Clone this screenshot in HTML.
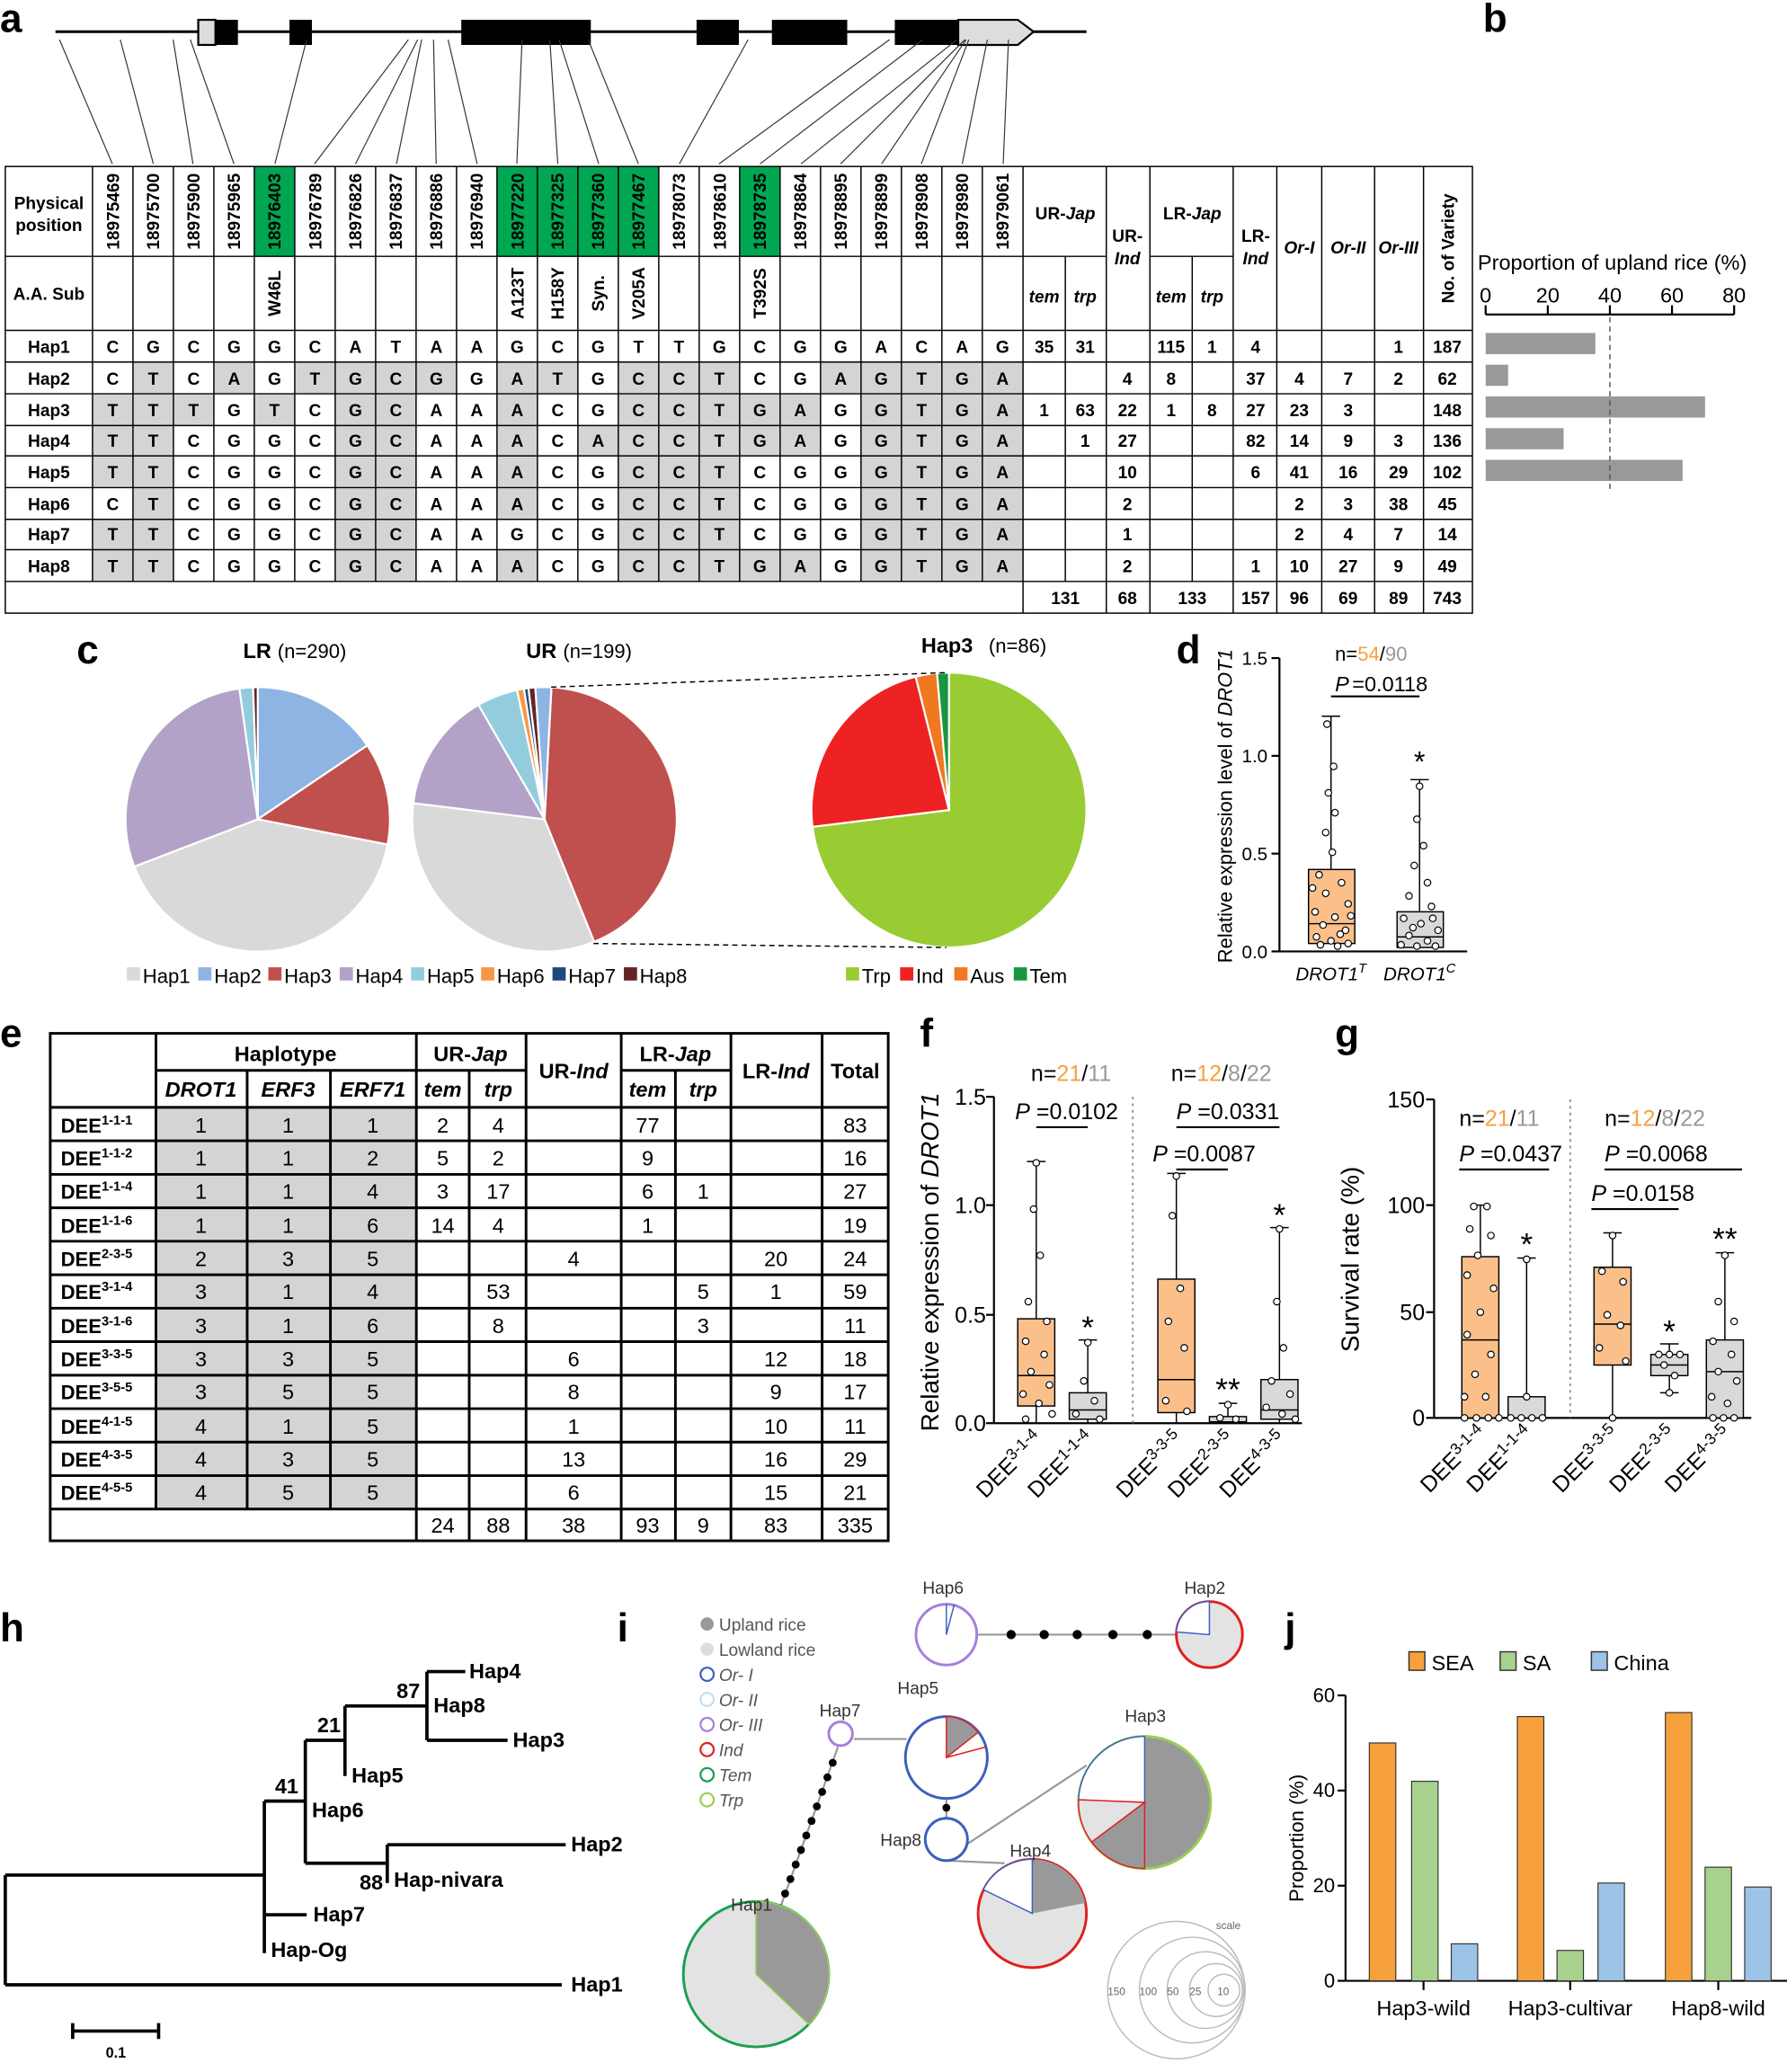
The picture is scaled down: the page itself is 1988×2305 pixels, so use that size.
<!DOCTYPE html>
<html><head><meta charset="utf-8"><style>
html,body{margin:0;padding:0;background:#fff}
svg{display:block}
text{font-family:"Liberation Sans",Arial,sans-serif}
.b{font-weight:bold}
.t{font-size:13px;font-weight:bold;text-anchor:middle}
.L{font-size:30px;font-weight:bold}
</style></head><body>
<svg width="1988" height="2305" viewBox="0 0 1352 1568" preserveAspectRatio="none" xmlns="http://www.w3.org/2000/svg">
<rect width="1352" height="1568" fill="#fff"/>
<!-- panel letters -->
<text x="0" y="24" class="L">a</text>
<text x="1122" y="24" class="L">b</text>
<text x="58" y="502" class="L">c</text>
<text x="890" y="502" class="L">d</text>
<text x="0" y="792" class="L">e</text>
<text x="696" y="792" class="L">f</text>
<text x="1010" y="792" class="L">g</text>
<text x="0" y="1242" class="L">h</text>
<text x="467" y="1242" class="L">i</text>
<text x="972" y="1242" class="L">j</text>

<!-- gene model -->
<line x1="42" y1="24" x2="822" y2="24" stroke="#000" stroke-width="2"/>
<rect x="150" y="15" width="13" height="19" fill="#ddd" stroke="#000" stroke-width="1.5"/>
<rect x="163" y="15" width="17" height="19" fill="#000"/>
<rect x="219" y="15" width="17" height="19" fill="#000"/>
<rect x="349" y="15" width="98" height="19" fill="#000"/>
<rect x="527" y="15" width="32" height="19" fill="#000"/>
<rect x="584" y="15" width="57" height="19" fill="#000"/>
<rect x="677" y="15" width="48" height="19" fill="#000"/>
<path d="M725 15 H770 L782 24 L770 34 H725 Z" fill="#ddd" stroke="#000" stroke-width="1.5"/>
<g stroke="#333" stroke-width="0.8">
<line x1="45" y1="30" x2="85" y2="124"/><line x1="91" y1="30" x2="116" y2="124"/><line x1="131" y1="30" x2="146" y2="124"/><line x1="144" y1="30" x2="177" y2="124"/><line x1="232" y1="30" x2="208" y2="124"/><line x1="309" y1="30" x2="238" y2="124"/><line x1="316" y1="30" x2="269" y2="124"/><line x1="319" y1="30" x2="300" y2="124"/><line x1="328" y1="30" x2="330" y2="124"/><line x1="339" y1="30" x2="361" y2="124"/><line x1="395" y1="30" x2="391" y2="124"/><line x1="416" y1="30" x2="422" y2="124"/><line x1="423" y1="30" x2="453" y2="124"/><line x1="445" y1="30" x2="483" y2="124"/><line x1="566" y1="30" x2="514" y2="124"/><line x1="673" y1="30" x2="544" y2="124"/><line x1="698" y1="30" x2="575" y2="124"/><line x1="724" y1="30" x2="606" y2="124"/><line x1="730" y1="30" x2="636" y2="124"/><line x1="731" y1="30" x2="667" y2="124"/><line x1="733" y1="30" x2="697" y2="124"/><line x1="747" y1="30" x2="728" y2="124"/><line x1="763" y1="30" x2="759" y2="124"/>
</g>

<!-- table a: green cells -->
<g fill="#00a651">
<rect x="192.4" y="126" width="30.6" height="68"/>
<rect x="376" y="126" width="122.4" height="68"/>
<rect x="559.6" y="126" width="30.6" height="68"/>
</g>
<g fill="#d4d4d4">
<rect x="100.6" y="274" width="30.6" height="24"/><rect x="161.8" y="274" width="30.6" height="24"/><rect x="223" y="274" width="122.4" height="24"/><rect x="376" y="274" width="61.2" height="24"/><rect x="467.8" y="274" width="91.8" height="24"/><rect x="620.8" y="274" width="153" height="24"/>
<rect x="70" y="298" width="91.8" height="24"/><rect x="192.4" y="298" width="30.6" height="24"/><rect x="253.6" y="298" width="61.2" height="24"/><rect x="376" y="298" width="30.6" height="24"/><rect x="467.8" y="298" width="153" height="24"/><rect x="651.4" y="298" width="122.4" height="24"/>
<rect x="70" y="322" width="61.2" height="23"/><rect x="253.6" y="322" width="61.2" height="23"/><rect x="376" y="322" width="30.6" height="23"/><rect x="437.2" y="322" width="183.6" height="23"/><rect x="651.4" y="322" width="122.4" height="23"/>
<rect x="70" y="345" width="61.2" height="24"/><rect x="253.6" y="345" width="61.2" height="24"/><rect x="376" y="345" width="30.6" height="24"/><rect x="467.8" y="345" width="91.8" height="24"/><rect x="651.4" y="345" width="122.4" height="24"/>
<rect x="100.6" y="369" width="30.6" height="24"/><rect x="253.6" y="369" width="61.2" height="24"/><rect x="376" y="369" width="30.6" height="24"/><rect x="467.8" y="369" width="91.8" height="24"/><rect x="651.4" y="369" width="122.4" height="24"/>
<rect x="70" y="393" width="61.2" height="23"/><rect x="253.6" y="393" width="61.2" height="23"/><rect x="467.8" y="393" width="91.8" height="23"/><rect x="651.4" y="393" width="122.4" height="23"/>
<rect x="70" y="416" width="61.2" height="24"/><rect x="253.6" y="416" width="61.2" height="24"/><rect x="376" y="416" width="30.6" height="24"/><rect x="467.8" y="416" width="153" height="24"/><rect x="651.4" y="416" width="122.4" height="24"/>
</g>
<g stroke="#000" stroke-width="1" fill="none">
<rect x="4" y="126" width="1110" height="338"/>
<line x1="4" y1="194" x2="837" y2="194"/><line x1="870" y1="194" x2="933" y2="194"/>
<line x1="4" y1="250" x2="1114" y2="250"/><line x1="4" y1="274" x2="1114" y2="274"/><line x1="4" y1="298" x2="1114" y2="298"/><line x1="4" y1="322" x2="1114" y2="322"/><line x1="4" y1="345" x2="1114" y2="345"/><line x1="4" y1="369" x2="1114" y2="369"/><line x1="4" y1="393" x2="1114" y2="393"/><line x1="4" y1="416" x2="1114" y2="416"/><line x1="4" y1="440" x2="1114" y2="440"/>
<line x1="70" y1="126" x2="70" y2="440"/><line x1="100.6" y1="126" x2="100.6" y2="440"/><line x1="131.2" y1="126" x2="131.2" y2="440"/><line x1="161.8" y1="126" x2="161.8" y2="440"/><line x1="192.4" y1="126" x2="192.4" y2="440"/><line x1="223" y1="126" x2="223" y2="440"/><line x1="253.6" y1="126" x2="253.6" y2="440"/><line x1="284.2" y1="126" x2="284.2" y2="440"/><line x1="314.8" y1="126" x2="314.8" y2="440"/><line x1="345.4" y1="126" x2="345.4" y2="440"/><line x1="376" y1="126" x2="376" y2="440"/><line x1="406.6" y1="126" x2="406.6" y2="440"/><line x1="437.2" y1="126" x2="437.2" y2="440"/><line x1="467.8" y1="126" x2="467.8" y2="440"/><line x1="498.4" y1="126" x2="498.4" y2="440"/><line x1="529" y1="126" x2="529" y2="440"/><line x1="559.6" y1="126" x2="559.6" y2="440"/><line x1="590.2" y1="126" x2="590.2" y2="440"/><line x1="620.8" y1="126" x2="620.8" y2="440"/><line x1="651.4" y1="126" x2="651.4" y2="440"/><line x1="682" y1="126" x2="682" y2="440"/><line x1="712.6" y1="126" x2="712.6" y2="440"/><line x1="743.2" y1="126" x2="743.2" y2="440"/>
<line x1="774" y1="126" x2="774" y2="464"/><line x1="806" y1="194" x2="806" y2="440"/><line x1="837" y1="126" x2="837" y2="464"/><line x1="870" y1="126" x2="870" y2="464"/><line x1="902" y1="194" x2="902" y2="440"/><line x1="933" y1="126" x2="933" y2="464"/><line x1="966" y1="126" x2="966" y2="464"/><line x1="1000" y1="126" x2="1000" y2="464"/><line x1="1040" y1="126" x2="1040" y2="464"/><line x1="1077" y1="126" x2="1077" y2="464"/>
</g>
<text x="37" y="158" class="t">Physical</text><text x="37" y="175" class="t">position</text>
<text x="37" y="227" class="t">A.A. Sub</text>
<g class="t">
<text transform="translate(90,160) rotate(-90)">18975469</text><text transform="translate(120.5,160) rotate(-90)">18975700</text><text transform="translate(151,160) rotate(-90)">18975900</text><text transform="translate(181.7,160) rotate(-90)">18975965</text><text transform="translate(212.3,160) rotate(-90)">18976403</text><text transform="translate(243,160) rotate(-90)">18976789</text><text transform="translate(273.5,160) rotate(-90)">18976826</text><text transform="translate(304,160) rotate(-90)">18976837</text><text transform="translate(334.7,160) rotate(-90)">18976886</text><text transform="translate(365.3,160) rotate(-90)">18976940</text><text transform="translate(396,160) rotate(-90)">18977220</text><text transform="translate(426.5,160) rotate(-90)">18977325</text><text transform="translate(457,160) rotate(-90)">18977360</text><text transform="translate(487.7,160) rotate(-90)">18977467</text><text transform="translate(518.3,160) rotate(-90)">18978073</text><text transform="translate(549,160) rotate(-90)">18978610</text><text transform="translate(579.5,160) rotate(-90)">18978735</text><text transform="translate(610,160) rotate(-90)">18978864</text><text transform="translate(640.7,160) rotate(-90)">18978895</text><text transform="translate(671.3,160) rotate(-90)">18978899</text><text transform="translate(702,160) rotate(-90)">18978908</text><text transform="translate(732.5,160) rotate(-90)">18978980</text><text transform="translate(763,160) rotate(-90)">18979061</text>
<text transform="translate(212.3,222) rotate(-90)">W46L</text><text transform="translate(396,222) rotate(-90)">A123T</text><text transform="translate(426.5,222) rotate(-90)">H158Y</text><text transform="translate(457,222) rotate(-90)">Syn.</text><text transform="translate(487.7,222) rotate(-90)">V205A</text><text transform="translate(579.5,222) rotate(-90)">T392S</text>
<text transform="translate(1100,188) rotate(-90)">No. of Variety</text>
</g>
<g class="t">
<text x="806" y="166">UR-<tspan font-style="italic">Jap</tspan></text>
<text x="853" y="183">UR-</text><text x="853" y="200" font-style="italic">Ind</text>
<text x="902" y="166">LR-<tspan font-style="italic">Jap</tspan></text>
<text x="950" y="183">LR-</text><text x="950" y="200" font-style="italic">Ind</text>
<text x="983" y="192" font-style="italic">Or-I</text>
<text x="1020" y="192" font-style="italic">Or-II</text>
<text x="1058" y="192" font-style="italic">Or-III</text>
<g font-style="italic"><text x="790" y="229">tem</text><text x="821" y="229">trp</text><text x="886" y="229">tem</text><text x="917" y="229">trp</text></g>
</g>
<g class="t">
<text x="37" y="267">Hap1</text><text x="37" y="291">Hap2</text><text x="37" y="315">Hap3</text><text x="37" y="338">Hap4</text><text x="37" y="362">Hap5</text><text x="37" y="386">Hap6</text><text x="37" y="409">Hap7</text><text x="37" y="433">Hap8</text>
<text y="267" x="85.3 115.9 146.5 177.1 207.7 238.3 268.9 299.5 330.1 360.7 391.3 421.9 452.5 483.1 513.7 544.3 574.9 605.5 636.1 666.7 697.3 727.9 758.5">CGCGGCATAAGCGTTGCGGACAG</text>
<text y="291" x="85.3 115.9 146.5 177.1 207.7 238.3 268.9 299.5 330.1 360.7 391.3 421.9 452.5 483.1 513.7 544.3 574.9 605.5 636.1 666.7 697.3 727.9 758.5">CTCAGTGCGGATGCCTCGAGTGA</text>
<text y="315" x="85.3 115.9 146.5 177.1 207.7 238.3 268.9 299.5 330.1 360.7 391.3 421.9 452.5 483.1 513.7 544.3 574.9 605.5 636.1 666.7 697.3 727.9 758.5">TTTGTCGCAAACGCCTGAGGTGA</text>
<text y="338" x="85.3 115.9 146.5 177.1 207.7 238.3 268.9 299.5 330.1 360.7 391.3 421.9 452.5 483.1 513.7 544.3 574.9 605.5 636.1 666.7 697.3 727.9 758.5">TTCGGCGCAAACACCTGAGGTGA</text>
<text y="362" x="85.3 115.9 146.5 177.1 207.7 238.3 268.9 299.5 330.1 360.7 391.3 421.9 452.5 483.1 513.7 544.3 574.9 605.5 636.1 666.7 697.3 727.9 758.5">TTCGGCGCAAACGCCTCGGGTGA</text>
<text y="386" x="85.3 115.9 146.5 177.1 207.7 238.3 268.9 299.5 330.1 360.7 391.3 421.9 452.5 483.1 513.7 544.3 574.9 605.5 636.1 666.7 697.3 727.9 758.5">CTCGGCGCAAACGCCTCGGGTGA</text>
<text y="409" x="85.3 115.9 146.5 177.1 207.7 238.3 268.9 299.5 330.1 360.7 391.3 421.9 452.5 483.1 513.7 544.3 574.9 605.5 636.1 666.7 697.3 727.9 758.5">TTCGGCGCAAGCGCCTCGGGTGA</text>
<text y="433" x="85.3 115.9 146.5 177.1 207.7 238.3 268.9 299.5 330.1 360.7 391.3 421.9 452.5 483.1 513.7 544.3 574.9 605.5 636.1 666.7 697.3 727.9 758.5">TTCGGCGCAAACGCCTGAGGTGA</text>
<text x="790" y="267">35</text><text x="821" y="267">31</text><text x="886" y="267">115</text><text x="917" y="267">1</text><text x="950" y="267">4</text><text x="1058" y="267">1</text><text x="1095" y="267">187</text>
<text x="853" y="291">4</text><text x="886" y="291">8</text><text x="950" y="291">37</text><text x="983" y="291">4</text><text x="1020" y="291">7</text><text x="1058" y="291">2</text><text x="1095" y="291">62</text>
<text x="790" y="315">1</text><text x="821" y="315">63</text><text x="853" y="315">22</text><text x="886" y="315">1</text><text x="917" y="315">8</text><text x="950" y="315">27</text><text x="983" y="315">23</text><text x="1020" y="315">3</text><text x="1095" y="315">148</text>
<text x="821" y="338">1</text><text x="853" y="338">27</text><text x="950" y="338">82</text><text x="983" y="338">14</text><text x="1020" y="338">9</text><text x="1058" y="338">3</text><text x="1095" y="338">136</text>
<text x="853" y="362">10</text><text x="950" y="362">6</text><text x="983" y="362">41</text><text x="1020" y="362">16</text><text x="1058" y="362">29</text><text x="1095" y="362">102</text>
<text x="853" y="386">2</text><text x="983" y="386">2</text><text x="1020" y="386">3</text><text x="1058" y="386">38</text><text x="1095" y="386">45</text>
<text x="853" y="409">1</text><text x="983" y="409">2</text><text x="1020" y="409">4</text><text x="1058" y="409">7</text><text x="1095" y="409">14</text>
<text x="853" y="433">2</text><text x="950" y="433">1</text><text x="983" y="433">10</text><text x="1020" y="433">27</text><text x="1058" y="433">9</text><text x="1095" y="433">49</text>
<text x="806" y="457">131</text><text x="853" y="457">68</text><text x="902" y="457">133</text><text x="950" y="457">157</text><text x="983" y="457">96</text><text x="1020" y="457">69</text><text x="1058" y="457">89</text><text x="1095" y="457">743</text>
</g>

<!-- panel b -->
<text x="1118" y="204" font-size="16">Proportion of upland rice (%)</text>
<line x1="1124" y1="238" x2="1312" y2="238" stroke="#000" stroke-width="1.5"/>
<g stroke="#000" stroke-width="1.5"><line x1="1124" y1="231" x2="1124" y2="238"/><line x1="1171" y1="231" x2="1171" y2="238"/><line x1="1218" y1="231" x2="1218" y2="238"/><line x1="1265" y1="231" x2="1265" y2="238"/><line x1="1312" y1="231" x2="1312" y2="238"/></g>
<g font-size="16" text-anchor="middle"><text x="1124" y="229">0</text><text x="1171" y="229">20</text><text x="1218" y="229">40</text><text x="1265" y="229">60</text><text x="1312" y="229">80</text></g>
<g fill="#999"><rect x="1124" y="252" width="83" height="16"/><rect x="1124" y="276" width="17" height="16"/><rect x="1124" y="300" width="166" height="16"/><rect x="1124" y="324" width="59" height="16"/><rect x="1124" y="348" width="149" height="16"/></g>
<line x1="1218" y1="240" x2="1218" y2="370" stroke="#555" stroke-width="1" stroke-dasharray="4,3"/>

<!-- panel c -->
<text x="184" y="498" font-size="16" class="b">LR</text><text x="210" y="498" font-size="15">(n=290)</text>
<text x="398" y="498" font-size="16" class="b">UR</text><text x="426" y="498" font-size="15">(n=199)</text>
<text x="697" y="494" font-size="16" class="b">Hap3</text><text x="748" y="494" font-size="15">(n=86)</text>
<g stroke="#fff" stroke-width="1.5">
<path d="M195 620 L195 520 A100 100 0 0 1 277.9 564.1 Z" fill="#8eb4e3"/>
<path d="M195 620 L277.9 564.1 A100 100 0 0 1 293.2 639.1 Z" fill="#c0504d"/>
<path d="M195 620 L293.2 639.1 A100 100 0 0 1 101.6 655.8 Z" fill="#d9d9d9"/>
<path d="M195 620 L101.6 655.8 A100 100 0 0 1 181.1 521 Z" fill="#b3a2c7"/>
<path d="M195 620 L181.1 521 A100 100 0 0 1 191.5 520.1 Z" fill="#93cddd"/>
<path d="M195 620 L191.5 520.1 A100 100 0 0 1 195 520 Z" fill="#632523"/>
<path d="M412 620 L417.2 520.1 A100 100 0 0 1 449.5 712.7 Z" fill="#c0504d"/>
<path d="M412 620 L449.5 712.7 A100 100 0 0 1 312.7 607.8 Z" fill="#d9d9d9"/>
<path d="M412 620 L312.7 607.8 A100 100 0 0 1 362 533.4 Z" fill="#b3a2c7"/>
<path d="M412 620 L362 533.4 A100 100 0 0 1 391.2 522.2 Z" fill="#93cddd"/>
<path d="M412 620 L391.2 522.2 A100 100 0 0 1 396.4 521.2 Z" fill="#f79646"/>
<path d="M412 620 L396.4 521.2 A100 100 0 0 1 399.8 520.7 Z" fill="#1f497d"/>
<path d="M412 620 L399.8 520.7 A100 100 0 0 1 405 520.2 Z" fill="#632523"/>
<path d="M412 620 L405 520.2 A100 100 0 0 1 417.2 520.1 Z" fill="#8eb4e3"/>
<path d="M718 613 L718 509 A104 104 0 1 1 614.7 625.7 Z" fill="#99cc33"/>
<path d="M718 613 L614.7 625.7 A104 104 0 0 1 692.8 512.1 Z" fill="#ee2222"/>
<path d="M718 613 L692.8 512.1 A104 104 0 0 1 708.9 509.4 Z" fill="#f07820"/>
<path d="M718 613 L708.9 509.4 A104 104 0 0 1 718 509 Z" fill="#1a9641"/>
</g>
<g stroke="#000" stroke-width="1" stroke-dasharray="4,3"><line x1="417" y1="520" x2="716" y2="509"/><line x1="449" y1="714" x2="716" y2="717"/></g>
<g font-size="15">
<rect x="96" y="732" width="10" height="10" fill="#d9d9d9"/><text x="108" y="744">Hap1</text>
<rect x="150" y="732" width="10" height="10" fill="#8eb4e3"/><text x="162" y="744">Hap2</text>
<rect x="203" y="732" width="10" height="10" fill="#c0504d"/><text x="215" y="744">Hap3</text>
<rect x="257" y="732" width="10" height="10" fill="#b3a2c7"/><text x="269" y="744">Hap4</text>
<rect x="311" y="732" width="10" height="10" fill="#93cddd"/><text x="323" y="744">Hap5</text>
<rect x="364" y="732" width="10" height="10" fill="#f79646"/><text x="376" y="744">Hap6</text>
<rect x="418" y="732" width="10" height="10" fill="#1f497d"/><text x="430" y="744">Hap7</text>
<rect x="472" y="732" width="10" height="10" fill="#632523"/><text x="484" y="744">Hap8</text>
<rect x="640" y="732" width="10" height="10" fill="#99cc33"/><text x="652" y="744">Trp</text>
<rect x="681" y="732" width="10" height="10" fill="#ee2222"/><text x="693" y="744">Ind</text>
<rect x="722" y="732" width="10" height="10" fill="#f07820"/><text x="734" y="744">Aus</text>
<rect x="767" y="732" width="10" height="10" fill="#1a9641"/><text x="779" y="744">Tem</text>
</g>

<!-- panel d -->
<g stroke="#000" stroke-width="1.5" fill="none">
<line x1="968" y1="498" x2="968" y2="720"/><line x1="968" y1="720" x2="1110" y2="720"/>
<line x1="962" y1="498" x2="968" y2="498"/><line x1="962" y1="572" x2="968" y2="572"/><line x1="962" y1="646" x2="968" y2="646"/><line x1="962" y1="720" x2="968" y2="720"/>
</g>
<g font-size="14" text-anchor="end"><text x="959" y="503">1.5</text><text x="959" y="577">1.0</text><text x="959" y="651">0.5</text><text x="959" y="725">0.0</text></g>
<text transform="translate(932,610) rotate(-90)" font-size="15" text-anchor="middle">Relative expression level of <tspan font-style="italic">DROT1</tspan></text>
<rect x="990" y="658" width="35" height="56" fill="#fbc08a" stroke="#000"/>
<line x1="990" y1="699" x2="1025" y2="699" stroke="#000"/>
<line x1="1007" y1="542" x2="1007" y2="658" stroke="#000"/><line x1="1000" y1="542" x2="1014" y2="542" stroke="#000"/>
<rect x="1057" y="690" width="35" height="27" fill="#d9d9d9" stroke="#000"/>
<line x1="1057" y1="709" x2="1092" y2="709" stroke="#000"/>
<line x1="1074" y1="590" x2="1074" y2="690" stroke="#000"/><line x1="1067" y1="590" x2="1081" y2="590" stroke="#000"/>
<g fill="#fff" stroke="#000" stroke-width="0.8">
<circle cx="1004" cy="548" r="2.5"/><circle cx="1009" cy="580" r="2.5"/><circle cx="1005" cy="600" r="2.5"/><circle cx="1010" cy="615" r="2.5"/><circle cx="1003" cy="630" r="2.5"/><circle cx="1008" cy="645" r="2.5"/><circle cx="998" cy="662" r="2.5"/><circle cx="1015" cy="668" r="2.5"/><circle cx="1003" cy="676" r="2.5"/><circle cx="1020" cy="684" r="2.5"/><circle cx="995" cy="690" r="2.5"/><circle cx="1010" cy="694" r="2.5"/><circle cx="1001" cy="700" r="2.5"/><circle cx="1018" cy="704" r="2.5"/><circle cx="996" cy="709" r="2.5"/><circle cx="1007" cy="712" r="2.5"/><circle cx="1020" cy="714" r="2.5"/><circle cx="1012" cy="716" r="2.5"/><circle cx="993" cy="672" r="2.5"/><circle cx="1022" cy="693" r="2.5"/><circle cx="999" cy="715" r="2.5"/><circle cx="1014" cy="707" r="2.5"/>
<circle cx="1074" cy="595" r="2.5"/><circle cx="1072" cy="620" r="2.5"/><circle cx="1077" cy="640" r="2.5"/><circle cx="1070" cy="655" r="2.5"/><circle cx="1080" cy="668" r="2.5"/><circle cx="1066" cy="678" r="2.5"/><circle cx="1083" cy="686" r="2.5"/><circle cx="1062" cy="695" r="2.5"/><circle cx="1075" cy="699" r="2.5"/><circle cx="1088" cy="704" r="2.5"/><circle cx="1066" cy="708" r="2.5"/><circle cx="1080" cy="712" r="2.5"/><circle cx="1060" cy="715" r="2.5"/><circle cx="1072" cy="716" r="2.5"/><circle cx="1086" cy="716" r="2.5"/><circle cx="1069" cy="702" r="2.5"/><circle cx="1084" cy="695" r="2.5"/>
</g>
<line x1="1007" y1="527" x2="1074" y2="527" stroke="#000" stroke-width="1.5"/>
<text x="1010" y="523" font-size="16" font-style="italic">P</text><text x="1023" y="523" font-size="16"> =0.0118</text>
<text x="1010" y="500" font-size="15">n=<tspan fill="#f7a13d">54</tspan>/<tspan fill="#999">90</tspan></text>
<text x="1074" y="584" font-size="22" text-anchor="middle">*</text>
<g font-size="14" font-style="italic" text-anchor="middle"><text x="1007" y="742">DROT1<tspan font-size="10" dy="-6">T</tspan></text><text x="1074" y="742">DROT1<tspan font-size="10" dy="-6">C</tspan></text></g>

<!-- panel e table -->
<g fill="#d4d4d4"><rect x="118" y="838" width="197" height="304"/></g>
<g stroke="#000" stroke-width="2" fill="none">
<rect x="38" y="782" width="634" height="384"/>
<line x1="118" y1="810" x2="398" y2="810"/><line x1="470" y1="810" x2="553" y2="810"/>
<line x1="38" y1="838" x2="672" y2="838"/>
<line x1="38" y1="863.3" x2="672" y2="863.3"/><line x1="38" y1="888.7" x2="672" y2="888.7"/><line x1="38" y1="914" x2="672" y2="914"/><line x1="38" y1="939.3" x2="672" y2="939.3"/><line x1="38" y1="964.7" x2="672" y2="964.7"/><line x1="38" y1="990" x2="672" y2="990"/><line x1="38" y1="1015.3" x2="672" y2="1015.3"/><line x1="38" y1="1040.7" x2="672" y2="1040.7"/><line x1="38" y1="1066" x2="672" y2="1066"/><line x1="38" y1="1091.3" x2="672" y2="1091.3"/><line x1="38" y1="1116.7" x2="672" y2="1116.7"/><line x1="38" y1="1142" x2="672" y2="1142"/>
<line x1="118" y1="782" x2="118" y2="1142"/><line x1="187" y1="810" x2="187" y2="1142"/><line x1="250" y1="810" x2="250" y2="1142"/><line x1="315" y1="782" x2="315" y2="1166"/><line x1="355" y1="810" x2="355" y2="1166"/><line x1="398" y1="782" x2="398" y2="1166"/><line x1="470" y1="782" x2="470" y2="1166"/><line x1="511" y1="810" x2="511" y2="1166"/><line x1="553" y1="782" x2="553" y2="1166"/><line x1="622" y1="782" x2="622" y2="1166"/>
</g>
<g font-size="16" font-weight="bold" text-anchor="middle">
<text x="216" y="803">Haplotype</text><text x="356" y="803">UR-<tspan font-style="italic">Jap</tspan></text><text x="434" y="816">UR-<tspan font-style="italic">Ind</tspan></text><text x="511" y="803">LR-<tspan font-style="italic">Jap</tspan></text><text x="587" y="816">LR-<tspan font-style="italic">Ind</tspan></text><text x="647" y="816">Total</text>
<g font-style="italic"><text x="152" y="830">DROT1</text><text x="218" y="830">ERF3</text><text x="282" y="830">ERF71</text><text x="335" y="830">tem</text><text x="377" y="830">trp</text><text x="490" y="830">tem</text><text x="532" y="830">trp</text></g>
</g>
<g font-size="15" font-weight="bold"><text x="46" y="857">DEE<tspan font-size="10" dy="-6">1-1-1</tspan></text><text x="46" y="882">DEE<tspan font-size="10" dy="-6">1-1-2</tspan></text><text x="46" y="907">DEE<tspan font-size="10" dy="-6">1-1-4</tspan></text><text x="46" y="933">DEE<tspan font-size="10" dy="-6">1-1-6</tspan></text><text x="46" y="958">DEE<tspan font-size="10" dy="-6">2-3-5</tspan></text><text x="46" y="983">DEE<tspan font-size="10" dy="-6">3-1-4</tspan></text><text x="46" y="1009">DEE<tspan font-size="10" dy="-6">3-1-6</tspan></text><text x="46" y="1034">DEE<tspan font-size="10" dy="-6">3-3-5</tspan></text><text x="46" y="1059">DEE<tspan font-size="10" dy="-6">3-5-5</tspan></text><text x="46" y="1085">DEE<tspan font-size="10" dy="-6">4-1-5</tspan></text><text x="46" y="1110">DEE<tspan font-size="10" dy="-6">4-3-5</tspan></text><text x="46" y="1135">DEE<tspan font-size="10" dy="-6">4-5-5</tspan></text></g>
<g font-size="16" text-anchor="middle">
<text x="152" y="857">1</text><text x="218" y="857">1</text><text x="282" y="857">1</text><text x="335" y="857">2</text><text x="377" y="857">4</text><text x="490" y="857">77</text><text x="647" y="857">83</text>
<text x="152" y="882">1</text><text x="218" y="882">1</text><text x="282" y="882">2</text><text x="335" y="882">5</text><text x="377" y="882">2</text><text x="490" y="882">9</text><text x="647" y="882">16</text>
<text x="152" y="907">1</text><text x="218" y="907">1</text><text x="282" y="907">4</text><text x="335" y="907">3</text><text x="377" y="907">17</text><text x="490" y="907">6</text><text x="532" y="907">1</text><text x="647" y="907">27</text>
<text x="152" y="933">1</text><text x="218" y="933">1</text><text x="282" y="933">6</text><text x="335" y="933">14</text><text x="377" y="933">4</text><text x="490" y="933">1</text><text x="647" y="933">19</text>
<text x="152" y="958">2</text><text x="218" y="958">3</text><text x="282" y="958">5</text><text x="434" y="958">4</text><text x="587" y="958">20</text><text x="647" y="958">24</text>
<text x="152" y="983">3</text><text x="218" y="983">1</text><text x="282" y="983">4</text><text x="377" y="983">53</text><text x="532" y="983">5</text><text x="587" y="983">1</text><text x="647" y="983">59</text>
<text x="152" y="1009">3</text><text x="218" y="1009">1</text><text x="282" y="1009">6</text><text x="377" y="1009">8</text><text x="532" y="1009">3</text><text x="647" y="1009">11</text>
<text x="152" y="1034">3</text><text x="218" y="1034">3</text><text x="282" y="1034">5</text><text x="434" y="1034">6</text><text x="587" y="1034">12</text><text x="647" y="1034">18</text>
<text x="152" y="1059">3</text><text x="218" y="1059">5</text><text x="282" y="1059">5</text><text x="434" y="1059">8</text><text x="587" y="1059">9</text><text x="647" y="1059">17</text>
<text x="152" y="1085">4</text><text x="218" y="1085">1</text><text x="282" y="1085">5</text><text x="434" y="1085">1</text><text x="587" y="1085">10</text><text x="647" y="1085">11</text>
<text x="152" y="1110">4</text><text x="218" y="1110">3</text><text x="282" y="1110">5</text><text x="434" y="1110">13</text><text x="587" y="1110">16</text><text x="647" y="1110">29</text>
<text x="152" y="1135">4</text><text x="218" y="1135">5</text><text x="282" y="1135">5</text><text x="434" y="1135">6</text><text x="587" y="1135">15</text><text x="647" y="1135">21</text>
<text x="335" y="1160">24</text><text x="377" y="1160">88</text><text x="434" y="1160">38</text><text x="490" y="1160">93</text><text x="532" y="1160">9</text><text x="587" y="1160">83</text><text x="647" y="1160">335</text>
</g>

<!-- panel f -->
<g stroke="#000" stroke-width="1.5" fill="none">
<line x1="752" y1="830" x2="752" y2="1077"/><line x1="752" y1="1077" x2="985" y2="1077"/>
<line x1="746" y1="830" x2="752" y2="830"/><line x1="746" y1="912" x2="752" y2="912"/><line x1="746" y1="995" x2="752" y2="995"/><line x1="746" y1="1077" x2="752" y2="1077"/>
</g>
<line x1="857" y1="830" x2="857" y2="1077" stroke="#777" stroke-dasharray="2,3"/>
<g font-size="17" text-anchor="end"><text x="746" y="836">1.5</text><text x="746" y="918">1.0</text><text x="746" y="1001">0.5</text><text x="746" y="1083">0.0</text></g>
<text transform="translate(710,955) rotate(-90)" font-size="19" text-anchor="middle">Relative expression of <tspan font-style="italic">DROT1</tspan></text>
<g stroke="#000" stroke-width="1">
<line x1="784" y1="879" x2="784" y2="1077"/><line x1="777" y1="879" x2="791" y2="879"/>
<rect x="770" y="998" width="28" height="66" fill="#fbc08a"/><line x1="770" y1="1041" x2="798" y2="1041"/>
<line x1="823" y1="1014" x2="823" y2="1077"/><line x1="816" y1="1014" x2="830" y2="1014"/>
<rect x="809" y="1054" width="28" height="20" fill="#d9d9d9"/><line x1="809" y1="1067" x2="837" y2="1067"/>
<line x1="890" y1="888" x2="890" y2="1077"/><line x1="883" y1="888" x2="897" y2="888"/>
<rect x="876" y="968" width="28" height="101" fill="#fbc08a"/><line x1="876" y1="1044" x2="904" y2="1044"/>
<line x1="929" y1="1062" x2="929" y2="1077"/><line x1="922" y1="1062" x2="936" y2="1062"/>
<rect x="915" y="1072" width="28" height="4" fill="#d9d9d9"/>
<line x1="968" y1="929" x2="968" y2="1077"/><line x1="961" y1="929" x2="975" y2="929"/>
<rect x="954" y="1044" width="28" height="30" fill="#d9d9d9"/><line x1="954" y1="1067" x2="982" y2="1067"/>
</g>
<g fill="#fff" stroke="#000" stroke-width="0.8">
<circle cx="784" cy="880" r="2.5"/><circle cx="782" cy="915" r="2.5"/><circle cx="787" cy="950" r="2.5"/><circle cx="778" cy="985" r="2.5"/><circle cx="792" cy="1000" r="2.5"/><circle cx="776" cy="1015" r="2.5"/><circle cx="790" cy="1025" r="2.5"/><circle cx="780" cy="1038" r="2.5"/><circle cx="794" cy="1048" r="2.5"/><circle cx="774" cy="1055" r="2.5"/><circle cx="786" cy="1062" r="2.5"/><circle cx="796" cy="1070" r="2.5"/><circle cx="776" cy="1074" r="2.5"/>
<circle cx="823" cy="1016" r="2.5"/><circle cx="820" cy="1045" r="2.5"/><circle cx="828" cy="1060" r="2.5"/><circle cx="814" cy="1070" r="2.5"/><circle cx="832" cy="1074" r="2.5"/>
<circle cx="890" cy="890" r="2.5"/><circle cx="887" cy="920" r="2.5"/><circle cx="893" cy="975" r="2.5"/><circle cx="884" cy="1000" r="2.5"/><circle cx="896" cy="1020" r="2.5"/><circle cx="882" cy="1060" r="2.5"/><circle cx="898" cy="1068" r="2.5"/>
<circle cx="929" cy="1063" r="2.5"/><circle cx="923" cy="1073" r="2.5"/><circle cx="935" cy="1074" r="2.5"/>
<circle cx="968" cy="930" r="2.5"/><circle cx="966" cy="985" r="2.5"/><circle cx="971" cy="1020" r="2.5"/><circle cx="962" cy="1045" r="2.5"/><circle cx="976" cy="1055" r="2.5"/><circle cx="958" cy="1065" r="2.5"/><circle cx="970" cy="1070" r="2.5"/><circle cx="980" cy="1074" r="2.5"/>
</g>
<g stroke="#000" stroke-width="1.5"><line x1="784" y1="853" x2="823" y2="853"/><line x1="890" y1="853" x2="968" y2="853"/><line x1="890" y1="885" x2="929" y2="885"/></g>
<g font-size="17"><text x="768" y="847"><tspan font-style="italic">P</tspan> =0.0102</text><text x="890" y="847"><tspan font-style="italic">P</tspan> =0.0331</text><text x="872" y="879"><tspan font-style="italic">P</tspan> =0.0087</text>
<text x="780" y="818">n=<tspan fill="#f7a13d">21</tspan>/<tspan fill="#999">11</tspan></text><text x="886" y="818">n=<tspan fill="#f7a13d">12</tspan>/<tspan fill="#999">8</tspan>/<tspan fill="#999">22</tspan></text></g>
<g font-size="24" text-anchor="middle"><text x="823" y="1013">*</text><text x="929" y="1060">**</text><text x="968" y="928">*</text></g>
<g font-size="17" text-anchor="end"><text transform="translate(790,1090) rotate(-45)">DEE<tspan font-size="12" dy="-6">3-1-4</tspan></text><text transform="translate(829,1090) rotate(-45)">DEE<tspan font-size="12" dy="-6">1-1-4</tspan></text><text transform="translate(896,1090) rotate(-45)">DEE<tspan font-size="12" dy="-6">3-3-5</tspan></text><text transform="translate(935,1090) rotate(-45)">DEE<tspan font-size="12" dy="-6">2-3-5</tspan></text><text transform="translate(974,1090) rotate(-45)">DEE<tspan font-size="12" dy="-6">4-3-5</tspan></text></g>

<!-- panel g -->
<g stroke="#000" stroke-width="1.5" fill="none">
<line x1="1085" y1="832" x2="1085" y2="1073"/><line x1="1085" y1="1073" x2="1325" y2="1073"/>
<line x1="1079" y1="832" x2="1085" y2="832"/><line x1="1079" y1="912" x2="1085" y2="912"/><line x1="1079" y1="993" x2="1085" y2="993"/><line x1="1079" y1="1073" x2="1085" y2="1073"/>
</g>
<line x1="1188" y1="832" x2="1188" y2="1073" stroke="#777" stroke-dasharray="2,3"/>
<g font-size="17" text-anchor="end"><text x="1078" y="838">150</text><text x="1078" y="918">100</text><text x="1078" y="999">50</text><text x="1078" y="1079">0</text></g>
<text transform="translate(1028,953) rotate(-90)" font-size="19" text-anchor="middle">Survival rate (%)</text>
<g stroke="#000" stroke-width="1">
<line x1="1120" y1="912" x2="1120" y2="1073"/><line x1="1113" y1="912" x2="1127" y2="912"/>
<rect x="1106" y="951" width="28" height="122" fill="#fbc08a"/><line x1="1106" y1="1014" x2="1134" y2="1014"/>
<line x1="1155" y1="952" x2="1155" y2="1073"/><line x1="1148" y1="952" x2="1162" y2="952"/>
<rect x="1141" y="1057" width="28" height="16" fill="#d9d9d9"/>
<line x1="1220" y1="933" x2="1220" y2="1073"/><line x1="1213" y1="933" x2="1227" y2="933"/>
<rect x="1206" y="959" width="28" height="74" fill="#fbc08a"/><line x1="1206" y1="1002" x2="1234" y2="1002"/>
<line x1="1263" y1="1017" x2="1263" y2="1054"/><line x1="1256" y1="1017" x2="1270" y2="1017"/><line x1="1256" y1="1054" x2="1270" y2="1054"/>
<rect x="1249" y="1025" width="28" height="16" fill="#d9d9d9"/><line x1="1249" y1="1033" x2="1277" y2="1033"/>
<line x1="1305" y1="948" x2="1305" y2="1073"/><line x1="1298" y1="948" x2="1312" y2="948"/>
<rect x="1291" y="1014" width="28" height="59" fill="#d9d9d9"/><line x1="1291" y1="1038" x2="1319" y2="1038"/>
</g>
<g fill="#fff" stroke="#000" stroke-width="0.8">
<circle cx="1115" cy="913" r="2.5"/><circle cx="1125" cy="913" r="2.5"/><circle cx="1112" cy="930" r="2.5"/><circle cx="1128" cy="935" r="2.5"/><circle cx="1118" cy="950" r="2.5"/><circle cx="1110" cy="965" r="2.5"/><circle cx="1130" cy="975" r="2.5"/><circle cx="1120" cy="993" r="2.5"/><circle cx="1110" cy="1010" r="2.5"/><circle cx="1128" cy="1025" r="2.5"/><circle cx="1116" cy="1040" r="2.5"/><circle cx="1108" cy="1057" r="2.5"/><circle cx="1124" cy="1057" r="2.5"/><circle cx="1108" cy="1073" r="2.5"/><circle cx="1117" cy="1073" r="2.5"/><circle cx="1126" cy="1073" r="2.5"/><circle cx="1134" cy="1073" r="2.5"/>
<circle cx="1155" cy="953" r="2.5"/><circle cx="1143" cy="1073" r="2.5"/><circle cx="1151" cy="1073" r="2.5"/><circle cx="1159" cy="1073" r="2.5"/><circle cx="1167" cy="1073" r="2.5"/><circle cx="1155" cy="1057" r="2.5"/>
<circle cx="1220" cy="935" r="2.5"/><circle cx="1212" cy="962" r="2.5"/><circle cx="1228" cy="970" r="2.5"/><circle cx="1216" cy="995" r="2.5"/><circle cx="1226" cy="1003" r="2.5"/><circle cx="1210" cy="1020" r="2.5"/><circle cx="1230" cy="1030" r="2.5"/><circle cx="1220" cy="1073" r="2.5"/>
<circle cx="1255" cy="1025" r="2.5"/><circle cx="1263" cy="1025" r="2.5"/><circle cx="1271" cy="1025" r="2.5"/><circle cx="1259" cy="1033" r="2.5"/><circle cx="1267" cy="1041" r="2.5"/><circle cx="1263" cy="1054" r="2.5"/>
<circle cx="1305" cy="950" r="2.5"/><circle cx="1300" cy="985" r="2.5"/><circle cx="1312" cy="1000" r="2.5"/><circle cx="1296" cy="1015" r="2.5"/><circle cx="1310" cy="1025" r="2.5"/><circle cx="1300" cy="1038" r="2.5"/><circle cx="1314" cy="1045" r="2.5"/><circle cx="1295" cy="1057" r="2.5"/><circle cx="1307" cy="1062" r="2.5"/><circle cx="1296" cy="1073" r="2.5"/><circle cx="1304" cy="1073" r="2.5"/><circle cx="1312" cy="1073" r="2.5"/>
</g>
<g stroke="#000" stroke-width="1.5"><line x1="1104" y1="885" x2="1172" y2="885"/><line x1="1214" y1="885" x2="1318" y2="885"/><line x1="1204" y1="915" x2="1270" y2="915"/></g>
<g font-size="17"><text x="1104" y="879"><tspan font-style="italic">P</tspan> =0.0437</text><text x="1214" y="879"><tspan font-style="italic">P</tspan> =0.0068</text><text x="1204" y="909"><tspan font-style="italic">P</tspan> =0.0158</text>
<text x="1104" y="852">n=<tspan fill="#f7a13d">21</tspan>/<tspan fill="#999">11</tspan></text><text x="1214" y="852">n=<tspan fill="#f7a13d">12</tspan>/<tspan fill="#999">8</tspan>/<tspan fill="#999">22</tspan></text></g>
<g font-size="24" text-anchor="middle"><text x="1155" y="950">*</text><text x="1263" y="1016">*</text><text x="1305" y="946">**</text></g>
<g font-size="17" text-anchor="end"><text transform="translate(1126,1086) rotate(-45)">DEE<tspan font-size="12" dy="-6">3-1-4</tspan></text><text transform="translate(1161,1086) rotate(-45)">DEE<tspan font-size="12" dy="-6">1-1-4</tspan></text><text transform="translate(1226,1086) rotate(-45)">DEE<tspan font-size="12" dy="-6">3-3-5</tspan></text><text transform="translate(1269,1086) rotate(-45)">DEE<tspan font-size="12" dy="-6">2-3-5</tspan></text><text transform="translate(1311,1086) rotate(-45)">DEE<tspan font-size="12" dy="-6">4-3-5</tspan></text></g>

<!-- panel h tree -->
<g stroke="#000" stroke-width="2.5" fill="none">
<line x1="4" y1="1419" x2="4" y2="1502"/><line x1="4" y1="1419" x2="200" y2="1419"/><line x1="4" y1="1502" x2="425" y2="1502"/>
<line x1="200" y1="1363" x2="200" y2="1478"/><line x1="200" y1="1449" x2="232" y2="1449"/><line x1="200" y1="1363" x2="231" y2="1363"/>
<line x1="231" y1="1317" x2="231" y2="1410"/><line x1="231" y1="1410" x2="293" y2="1410"/><line x1="231" y1="1317" x2="261" y2="1317"/>
<line x1="293" y1="1396" x2="293" y2="1425"/><line x1="293" y1="1396" x2="428" y2="1396"/>
<line x1="261" y1="1291" x2="261" y2="1344"/><line x1="261" y1="1291" x2="323" y2="1291"/>
<line x1="323" y1="1265" x2="323" y2="1317"/><line x1="323" y1="1265" x2="352" y2="1265"/><line x1="323" y1="1317" x2="384" y2="1317"/>
<line x1="55" y1="1537" x2="120" y2="1537"/><line x1="55" y1="1531" x2="55" y2="1543"/><line x1="120" y1="1531" x2="120" y2="1543"/>
</g>
<g font-size="16" font-weight="bold">
<text x="355" y="1270">Hap4</text><text x="328" y="1296">Hap8</text><text x="388" y="1322">Hap3</text><text x="266" y="1349">Hap5</text><text x="236" y="1375">Hap6</text><text x="432" y="1401">Hap2</text><text x="298" y="1428">Hap-nivara</text><text x="237" y="1454">Hap7</text><text x="205" y="1481">Hap-Og</text><text x="432" y="1507">Hap1</text>
<text x="300" y="1285">87</text><text x="240" y="1311">21</text><text x="208" y="1357">41</text><text x="272" y="1430">88</text>
</g>
<text x="80" y="1557" font-size="11" font-weight="bold">0.1</text>

<!-- panel i network -->
<g font-size="13" fill="#555">
<circle cx="535" cy="1229" r="5" fill="#999"/><text x="544" y="1234">Upland rice</text>
<circle cx="535" cy="1248" r="5" fill="#ddd"/><text x="544" y="1253">Lowland rice</text>
<g fill="none" stroke-width="1.5"><circle cx="535" cy="1267" r="5" stroke="#3b5fc0"/><circle cx="535" cy="1286" r="5" stroke="#bde0f5"/><circle cx="535" cy="1305" r="5" stroke="#a67fdc"/><circle cx="535" cy="1324" r="5" stroke="#e02020"/><circle cx="535" cy="1343" r="5" stroke="#1aa050"/><circle cx="535" cy="1362" r="5" stroke="#9acd52"/></g>
<g font-style="italic"><text x="544" y="1272">Or- I</text><text x="544" y="1291">Or- II</text><text x="544" y="1310">Or- III</text><text x="544" y="1329">Ind</text><text x="544" y="1348">Tem</text><text x="544" y="1367">Trp</text></g>
</g>
<g stroke="#999" stroke-width="1.5"><line x1="740" y1="1237" x2="890" y2="1237"/><line x1="646" y1="1316" x2="686" y2="1316"/><line x1="716" y1="1362" x2="716" y2="1376"/><line x1="728" y1="1398" x2="822" y2="1336"/><line x1="716" y1="1408" x2="760" y2="1410"/><line x1="634" y1="1322" x2="588" y2="1450"/></g>
<g fill="#000"><circle cx="765" cy="1237" r="3.5"/><circle cx="790" cy="1237" r="3.5"/><circle cx="815" cy="1237" r="3.5"/><circle cx="842" cy="1237" r="3.5"/><circle cx="868" cy="1237" r="3.5"/>
<circle cx="716" cy="1368" r="3"/><circle cx="630" cy="1334" r="3"/><circle cx="626" cy="1345" r="3"/><circle cx="622" cy="1356" r="3"/><circle cx="618" cy="1367" r="3"/><circle cx="614" cy="1378" r="3"/><circle cx="610" cy="1389" r="3"/><circle cx="606" cy="1400" r="3"/><circle cx="602" cy="1411" r="3"/><circle cx="598" cy="1422" r="3"/><circle cx="594" cy="1433" r="3"/><circle cx="590" cy="1444" r="3"/></g>
<circle cx="716" cy="1237" r="23" fill="#fff" stroke="#a67fdc" stroke-width="2"/><line x1="716" y1="1237" x2="716" y2="1214" stroke="#3b5fc0"/><line x1="716" y1="1237" x2="722" y2="1214" stroke="#3b5fc0"/>
<circle cx="915" cy="1237" r="25" fill="#e3e3e3" stroke="#e02020" stroke-width="2"/><path d="M915 1237 L915 1212 A25 25 0 0 0 890 1235 Z" fill="#fff" stroke="#3b5fc0"/>
<circle cx="716" cy="1330" r="31" fill="#fff" stroke="#3b5fc0" stroke-width="2"/><path d="M716 1330 L716 1299 A31 31 0 0 1 740 1311 Z" fill="#999" stroke="#e02020"/><line x1="716" y1="1330" x2="746" y2="1322" stroke="#e02020"/>
<circle cx="636" cy="1312" r="9" fill="#fff" stroke="#a67fdc" stroke-width="2"/>
<circle cx="716" cy="1392" r="16" fill="#fff" stroke="#3b5fc0" stroke-width="2"/>
<circle cx="781" cy="1448" r="41" fill="#e3e3e3" stroke="#e02020" stroke-width="2"/><path d="M781 1448 L781 1407 A41 41 0 0 1 821 1440 Z" fill="#999"/><path d="M781 1448 L781 1407 A41 41 0 0 0 744 1430 Z" fill="#fff" stroke="#3b5fc0"/>
<circle cx="866" cy="1364" r="50" fill="#999" stroke="#9acd52" stroke-width="2"/><path d="M866 1364 L866 1314 A50 50 0 0 0 816 1362 Z" fill="#fff" stroke="#3b5fc0"/><path d="M866 1364 L816 1362 A50 50 0 0 0 826 1394 Z" fill="#e3e3e3" stroke="#e02020"/><path d="M866 1364 L826 1394 A50 50 0 0 0 866 1414 Z" fill="#999" stroke="#e02020"/>
<circle cx="572" cy="1494" r="55" fill="#e3e3e3" stroke="#1aa050" stroke-width="2"/><path d="M572 1494 L572 1439 A55 55 0 0 1 612 1532 Z" fill="#999" stroke="#9acd52"/>
<g font-size="13" fill="#333"><text x="698" y="1206">Hap6</text><text x="896" y="1206">Hap2</text><text x="679" y="1282">Hap5</text><text x="620" y="1299">Hap7</text><text x="851" y="1303">Hap3</text><text x="666" y="1397">Hap8</text><text x="764" y="1405">Hap4</text><text x="553" y="1446">Hap1</text></g>
<g fill="none" stroke="#bbb" stroke-width="1"><circle cx="890" cy="1506" r="52"/><circle cx="902" cy="1506" r="40"/><circle cx="912" cy="1506" r="29"/><circle cx="920" cy="1506" r="20"/><circle cx="926" cy="1506" r="12"/></g>
<g font-size="8" fill="#666"><text x="838" y="1510">150</text><text x="862" y="1510">100</text><text x="883" y="1510">50</text><text x="900" y="1510">25</text><text x="921" y="1510">10</text><text x="920" y="1460">scale</text></g>

<!-- panel j -->
<g font-size="16">
<rect x="1066" y="1250" width="12" height="14" fill="#f7a13d" stroke="#333"/><text x="1083" y="1264">SEA</text>
<rect x="1135" y="1250" width="12" height="14" fill="#a9d18e" stroke="#333"/><text x="1152" y="1264">SA</text>
<rect x="1204" y="1250" width="12" height="14" fill="#9dc3e6" stroke="#333"/><text x="1221" y="1264">China</text>
</g>
<g stroke="#000" stroke-width="1.5"><line x1="1018" y1="1283" x2="1018" y2="1499"/><line x1="1018" y1="1499" x2="1352" y2="1499"/><line x1="1012" y1="1283" x2="1018" y2="1283"/><line x1="1012" y1="1355" x2="1018" y2="1355"/><line x1="1012" y1="1427" x2="1018" y2="1427"/><line x1="1012" y1="1499" x2="1018" y2="1499"/><line x1="1077" y1="1499" x2="1077" y2="1506"/><line x1="1188" y1="1499" x2="1188" y2="1506"/><line x1="1300" y1="1499" x2="1300" y2="1506"/></g>
<g font-size="15" text-anchor="end"><text x="1010" y="1288">60</text><text x="1010" y="1360">40</text><text x="1010" y="1432">20</text><text x="1010" y="1504">0</text></g>
<text transform="translate(986,1391) rotate(-90)" font-size="15" text-anchor="middle">Proportion (%)</text>
<g stroke="#333" stroke-width="0.8">
<rect x="1036" y="1319" width="20" height="180" fill="#f7a13d"/><rect x="1068" y="1348" width="20" height="151" fill="#a9d18e"/><rect x="1098" y="1471" width="20" height="28" fill="#9dc3e6"/>
<rect x="1148" y="1299" width="20" height="200" fill="#f7a13d"/><rect x="1178" y="1476" width="20" height="23" fill="#a9d18e"/><rect x="1209" y="1425" width="20" height="74" fill="#9dc3e6"/>
<rect x="1260" y="1296" width="20" height="203" fill="#f7a13d"/><rect x="1290" y="1413" width="20" height="86" fill="#a9d18e"/><rect x="1320" y="1428" width="20" height="71" fill="#9dc3e6"/>
</g>
<g font-size="16" text-anchor="middle"><text x="1077" y="1525">Hap3-wild</text><text x="1188" y="1525">Hap3-cultivar</text><text x="1300" y="1525">Hap8-wild</text></g>
</svg>
</body></html>
